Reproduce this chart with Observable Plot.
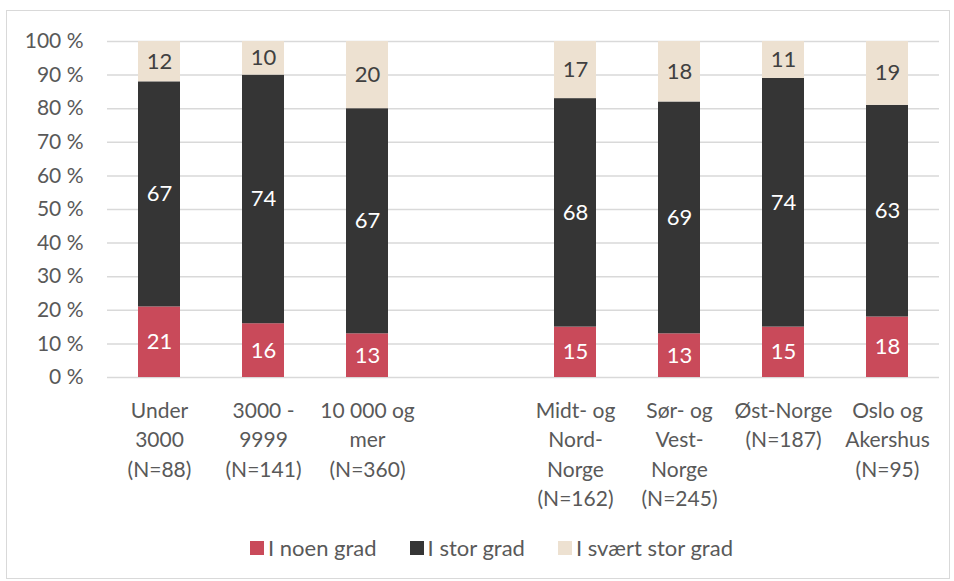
<!DOCTYPE html>
<html>
<head>
<meta charset="utf-8">
<script src="https://cdn.jsdelivr.net/npm/d3@7"></script>
<script src="https://cdn.jsdelivr.net/npm/@observablehq/plot@0.6"></script>
<style>
  html, body { margin: 0; padding: 0; background: #fff; }
  body { width: 954px; height: 581px; position: relative; overflow: hidden; font-family: Lato, "Open Sans", sans-serif; }
  #frame { position: absolute; left: 6px; top: 10px; width: 944px; height: 569px; border: 1.5px solid #d9d9d9; box-sizing: border-box; }
  #chart { position: absolute; left: 0; top: 0; }
  #legend { position: absolute; left: 250px; top: 534px; display: flex; align-items: center; font-size: 22px; color: #595959; white-space: nowrap; }
  .item { display: flex; align-items: center; margin-right: 33px; }
  .sw { width: 14px; height: 14px; margin-right: 4px; }
</style>
</head>
<body>
<div id="frame"></div>
<div id="chart"></div>
<div id="legend"></div>
<script>
// Categories (groups) and tick labels
const groupA = ["Under 3000", "3000 - 9999", "10 000 og mer"];
const groupB = ["Midt- og Nord-Norge", "Sør- og Vest-Norge", "Øst-Norge", "Oslo og Akershus"];
const categories = [...groupA, ...groupB];
const tickLabels = [
  "Under\n3000\n(N=88)",
  "3000 -\n9999\n(N=141)",
  "10 000 og\nmer\n(N=360)",
  "Midt- og\nNord-\nNorge\n(N=162)",
  "Sør- og\nVest-\nNorge\n(N=245)",
  "Øst-Norge\n(N=187)",
  "Oslo og\nAkershus\n(N=95)"
];

// Series
const seriesNames = ["I noen grad", "I stor grad", "I svært stor grad"];
const seriesColors = ["#c94a5a", "#353535", "#ede1d1"];
const noenGrad      = [21, 16, 13, 15, 13, 15, 18];
const storGrad      = [67, 74, 67, 68, 69, 74, 63];
const sværtStorGrad = [12, 10, 20, 17, 18, 11, 19];

const yTicks = [0, 10, 20, 30, 40, 50, 60, 70, 80, 90, 100];

// Build table
const seriesValues = [noenGrad, storGrad, sværtStorGrad];
const data = [];
seriesNames.forEach((s, si) => {
  categories.forEach((c, ci) => {
    data.push({category: c, series: s, value: seriesValues[si][ci]});
  });
});
const gapKey = " ";
const xDomain = [...groupA, gapKey, ...groupB];
const labelOf = new Map(categories.map((c, i) => [c, tickLabels[i]]));

const chart = Plot.plot({
  width: 954,
  height: 520,
  marginLeft: 107,
  marginRight: 15,
  marginTop: 41,
  marginBottom: 143,
  style: {fontFamily: "Lato, 'Open Sans', sans-serif", fontSize: "21px", color: "#595959", background: "transparent"},
  x: {domain: xDomain, paddingInner: 0.6, paddingOuter: 0.3, axis: null},
  y: {domain: [0, 100], axis: null},
  color: {domain: seriesNames, range: seriesColors},
  marks: [
    Plot.gridY(yTicks, {stroke: "#d9d9d9", strokeOpacity: 1, strokeWidth: 1.5}),
    Plot.axisY(yTicks, {tickSize: 0, tickPadding: 24, tickFormat: d => d + " %", fontSize: 21, fill: "#595959", label: null}),
    Plot.barY(data, {x: "category", y: "value", z: "series", fill: "series"}),
    Plot.text(data, Plot.stackY({x: "category", y: "value", z: "series",
      text: d => d.series === seriesNames[2] ? "" : String(d.value),
      fill: "#ffffff", fontSize: 22})),
    Plot.text(data, Plot.stackY({x: "category", y: "value", z: "series",
      text: d => d.series === seriesNames[2] ? String(d.value) : "",
      fill: "#404040", fontSize: 22})),
    Plot.axisX({tickSize: 0, tickPadding: 19, lineHeight: 1.41, fontSize: 21, fill: "#595959", label: null,
      tickFormat: d => labelOf.get(d) ?? ""})
  ]
});
document.getElementById("chart").appendChild(chart);

// Legend (HTML, below the plot area)
const legend = document.getElementById("legend");
seriesNames.forEach((s, i) => {
  const item = document.createElement("div");
  item.className = "item";
  const sw = document.createElement("div");
  sw.className = "sw";
  sw.style.background = seriesColors[i];
  const t = document.createElement("span");
  t.textContent = s;
  item.appendChild(sw);
  item.appendChild(t);
  legend.appendChild(item);
});
</script>
</body>
</html>
